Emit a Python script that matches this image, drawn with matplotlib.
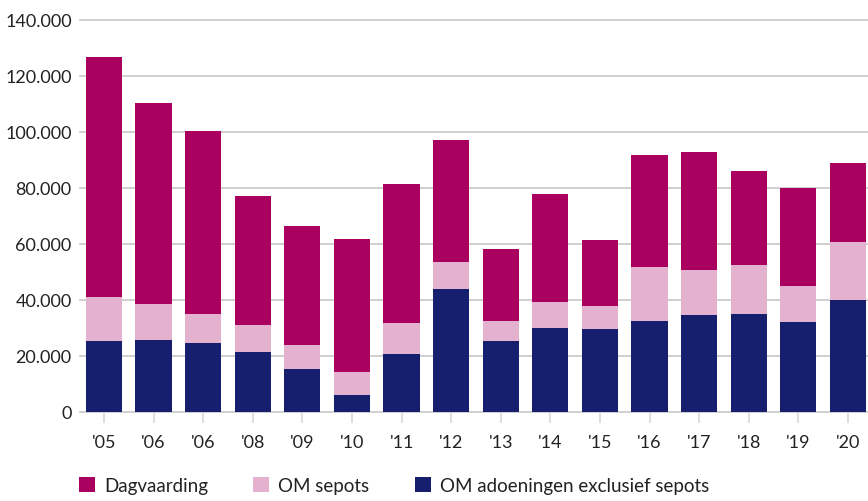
import matplotlib.pyplot as plt
import numpy as np
from matplotlib.ticker import FuncFormatter

plt.rcParams['font.family'] = ['Lato', 'DejaVu Sans']

# jaren (de tweede '06 staat zo in het origineel)
years = ["'05", "'06", "'06", "'08", "'09", "'10", "'11", "'12",
         "'13", "'14", "'15", "'16", "'17", "'18", "'19", "'20"]

totaal = [126600, 110200, 100100, 77000, 66200, 61600, 81300, 97000,
          58000, 77700, 61250, 91600, 92700, 85900, 79800, 88800]
tot_sepots = [40900, 38400, 34800, 30900, 23800, 14100, 31600, 53400,
              32300, 39100, 37700, 51600, 50500, 52300, 44800, 60500]
adoeningen = [25200, 25500, 24500, 21200, 15200, 5900, 20500, 43750,
              25200, 29800, 29500, 32300, 34500, 34800, 32000, 39800]

sepots = np.array(tot_sepots) - np.array(adoeningen)
dagvaarding = np.array(totaal) - np.array(tot_sepots)

c_dag = '#aa005f'
c_sep = '#e4b1cf'
c_adoe = '#161f6e'

fig = plt.figure(figsize=(8.68, 5.02), dpi=100)
ax = fig.add_axes([80/868, 89.5/502, 788/868, 392/502])

x = np.arange(len(years))
w = 0.73
b1 = ax.bar(x, adoeningen, w, color=c_adoe, zorder=3,
            label='OM adoeningen exclusief sepots')
b2 = ax.bar(x, sepots, w, bottom=adoeningen, color=c_sep, zorder=3,
            label='OM sepots')
b3 = ax.bar(x, dagvaarding, w, bottom=tot_sepots, color=c_dag, zorder=3,
            label='Dagvaarding')

ax.set_xlim(-0.484, 15.405)
ax.set_ylim(0, 140000)
ax.set_yticks(np.arange(0, 140001, 20000))
ax.yaxis.set_major_formatter(FuncFormatter(lambda v, p: f'{int(v):,}'.replace(',', '.')))
ax.set_xticks(x)
ax.set_xticklabels(years)

for s in ax.spines.values():
    s.set_visible(False)
ax.yaxis.grid(True, color='#cccccc', lw=1.3, zorder=0, clip_on=False)
ax.tick_params(axis='y', length=0, pad=6, labelsize=13, labelcolor='#222222')
ax.tick_params(axis='x', length=8, width=1.2, color='#d8d8d8', pad=8,
               labelsize=13, labelcolor='#222222')

fig.legend(handles=[b3, b2, b1], loc='lower left', bbox_to_anchor=(62/868, -0.02),
           ncol=3, frameon=False, fontsize=13.5, handlelength=0.85, handleheight=0.85,
           handletextpad=0.5, columnspacing=2.4, labelcolor='#222222')

fig.savefig('out.png', dpi=100)
